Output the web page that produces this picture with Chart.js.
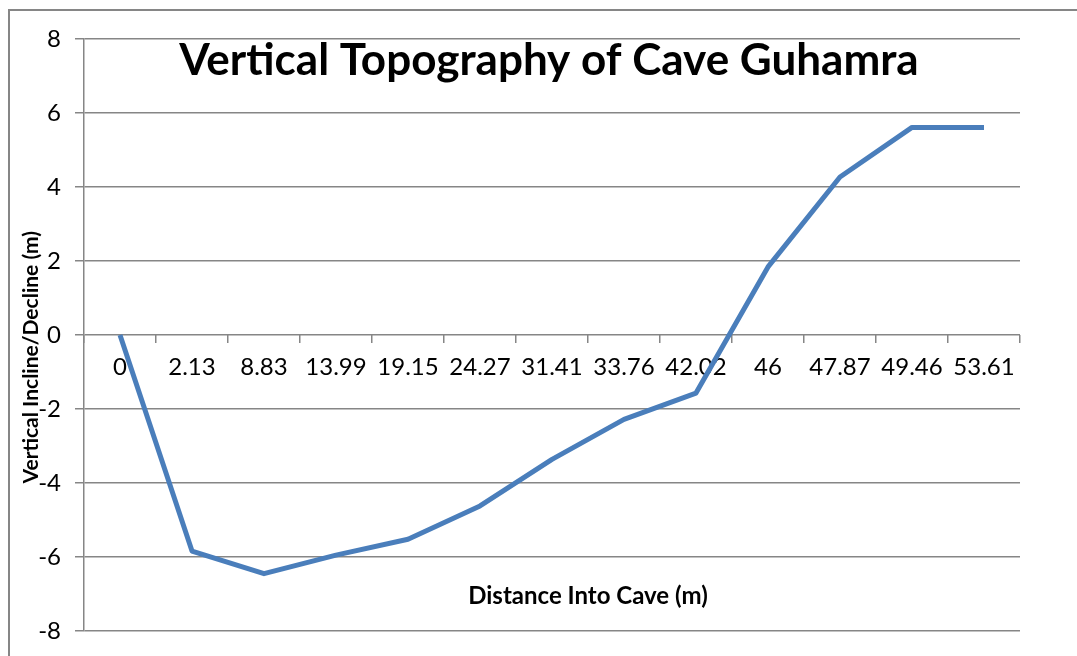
<!DOCTYPE html>
<html>
<head>
<meta charset="utf-8">
<script src="https://cdn.jsdelivr.net/npm/chart.js@4/dist/chart.umd.min.js"></script>
<style>
  html, body { margin: 0; padding: 0; background: #fff; }
  #wrap { width: 1077px; height: 656px; }
</style>
</head>
<body>
<div id="wrap"><canvas id="caveChart"></canvas></div>
<script>
const distances = ['0', '2.13', '8.83', '13.99', '19.15', '24.27', '31.41', '33.76', '42.02', '46', '47.87', '49.46', '53.61'];
const elevation = [0, -5.84, -6.45, -5.95, -5.52, -4.62, -3.36, -2.28, -1.57, 1.84, 4.27, 5.61, 5.61];
const yTicks = [-8, -6, -4, -2, 0, 2, 4, 6, 8];

const chartTitle = 'Vertical Topography of Cave Guhamra';
const xTitle = 'Distance Into Cave (m)';
const yTitle = 'Vertical Incline/Decline (m)';

const FONT = 'Lato';
const GRID = '#868686';

// titles sit inside / off-centre in the original, so draw them by hand
const overlay = {
  id: 'overlay',
  beforeDraw(chart) {
    const ctx = chart.ctx;
    ctx.save();
    ctx.strokeStyle = GRID;
    ctx.lineWidth = 2;
    ctx.strokeRect(9, 10, chart.width + 20, chart.height + 20);
    ctx.restore();
  },
  afterDraw(chart) {
    const { ctx, chartArea, scales } = chart;
    ctx.save();
    ctx.fillStyle = '#000';
    ctx.textAlign = 'center';
    ctx.textBaseline = 'middle';
    ctx.font = `bold 44px ${FONT}`;
    ctx.fillText(chartTitle, (chartArea.left + chartArea.right) / 2 - 3, 61);
    ctx.font = `bold 24px ${FONT}`;
    ctx.fillText(xTitle, scales.x.getPixelForValue(6.5), scales.y.getPixelForValue(-7.05));
    ctx.translate(31, scales.y.getPixelForValue(-0.6));
    ctx.rotate(-Math.PI / 2);
    ctx.font = `bold 21px ${FONT}`;
    ctx.fillText(yTitle, 0, 0);
    ctx.restore();
  }
};

new Chart(document.getElementById('caveChart'), {
  type: 'line',
  data: {
    labels: distances,
    datasets: [{
      data: elevation,
      borderColor: '#4a7ebb',
      borderWidth: 5,
      pointRadius: 0,
      tension: 0,
      fill: false,
      borderJoinStyle: 'round',
      clip: false
    }]
  },
  options: {
    responsive: true,
    maintainAspectRatio: false,
    animation: false,
    layout: { padding: { left: 0, right: 57, top: 39, bottom: 25 } },
    plugins: {
      legend: { display: false },
      tooltip: { enabled: false },
      title: { display: false }
    },
    scales: {
      x: {
        type: 'category',
        position: { y: 0 },
        offset: true,
        grid: {
          offset: true,
          drawOnChartArea: false,
          drawTicks: true,
          tickLength: 8,
          color: GRID,
          lineWidth: 1.5
        },
        border: { display: false },
        ticks: {
          color: '#000',
          font: { family: FONT, size: 24 },
          padding: 10,
          maxRotation: 0,
          autoSkip: false
        }
      },
      y: {
        min: -8,
        max: 8,
        afterBuildTicks: s => { s.ticks = yTicks.map(v => ({ value: v })); },
        afterFit: s => {
          s.width = 84;
          s.paddingTop = 0;
          s.paddingBottom = 0;
        },
        grid: { color: GRID, lineWidth: 1.5, tickLength: 9 },
        border: { color: GRID, width: 1.5 },
        ticks: {
          color: '#000',
          font: { family: FONT, size: 24 },
          padding: 14
        }
      }
    }
  },
  plugins: [overlay]
});
</script>
</body>
</html>
